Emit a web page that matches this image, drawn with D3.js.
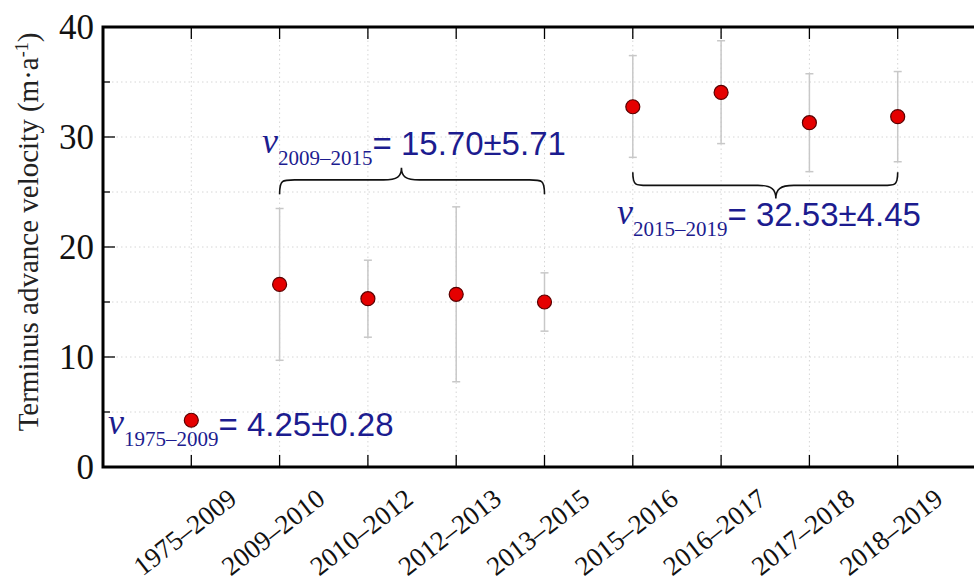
<!DOCTYPE html>
<html>
<head>
<meta charset="utf-8">
<script src="https://cdn.jsdelivr.net/npm/d3@7"></script>
<style>
  body { margin: 0; background: #fff; }
  svg { display: block; }
</style>
</head>
<body>
<svg id="chart" width="974" height="586"></svg>
<script>
// data
var periods = ["1975\u20132009", "2009\u20132010", "2010\u20132012", "2012\u20132013", "2013\u20132015",
               "2015\u20132016", "2016\u20132017", "2017\u20132018", "2018\u20132019"];
var velocity = [4.25, 16.6, 15.3, 15.7, 15.0, 32.75, 34.05, 31.3, 31.85];
var errLow  = [0.28, 6.9, 3.5, 7.95, 2.65, 4.6, 4.65, 4.45, 4.1];
var errHigh = [0.28, 6.9, 3.5, 7.95, 2.65, 4.65, 4.7, 4.45, 4.1];
var yTicks = [0, 10, 20, 30, 40];
var yMinor = [0, 5, 10, 15, 20, 25, 30, 35, 40];

// period averages (braces + labels)
var groupSub = ["2009\u20132015", "2015\u20132019", "1975\u20132009"];
var groupVal = ["= 15.70\u00b15.71", "= 32.53\u00b14.45", "= 4.25\u00b10.28"];
var groupFrom = [1, 5];
var groupTo = [4, 8];

var svg = d3.select("#chart");
// plot box ("top" is taken on window, so pl/pt/pb/pr)
var pl = 103, pt = 27, pb = 467, pr = 986;

var x = d3.scaleLinear().domain([-1, periods.length]).range([pl, pr]);
var y = d3.scaleLinear().domain([0, 40]).range([pb, pt]);

var g = svg.append("g");

// dotted grid
g.selectAll(".hgrid").data(yMinor.filter(function(d){ return d > 0 && d < 40; }))
  .enter().append("line")
  .attr("x1", pl).attr("x2", pr)
  .attr("y1", function(d){ return y(d); }).attr("y2", function(d){ return y(d); })
  .attr("stroke", "#d6d6d6").attr("stroke-width", 1).attr("stroke-dasharray", "1.5,3");
g.selectAll(".vgrid").data(periods)
  .enter().append("line")
  .attr("x1", function(d, i){ return x(i); }).attr("x2", function(d, i){ return x(i); })
  .attr("y1", pt).attr("y2", pb)
  .attr("stroke", "#d6d6d6").attr("stroke-width", 1).attr("stroke-dasharray", "1.5,3");

// ticks (inward)
g.selectAll(".yt").data(yMinor).enter().append("line")
  .attr("x1", pl).attr("x2", function(d){ return pl + (d % 10 === 0 ? 12 : 7); })
  .attr("y1", function(d){ return y(d); }).attr("y2", function(d){ return y(d); })
  .attr("stroke", "#000").attr("stroke-width", 1.3);
g.selectAll(".xtb").data(periods).enter().append("line")
  .attr("x1", function(d, i){ return x(i); }).attr("x2", function(d, i){ return x(i); })
  .attr("y1", pb).attr("y2", pb - 12)
  .attr("stroke", "#000").attr("stroke-width", 1.3);
g.selectAll(".xtt").data(periods).enter().append("line")
  .attr("x1", function(d, i){ return x(i); }).attr("x2", function(d, i){ return x(i); })
  .attr("y1", pt).attr("y2", pt + 12)
  .attr("stroke", "#000").attr("stroke-width", 1.3);
g.selectAll(".ytr").data(yMinor).enter().append("line")
  .attr("x1", pr).attr("x2", function(d){ return pr - (d % 10 === 0 ? 12 : 7); })
  .attr("y1", function(d){ return y(d); }).attr("y2", function(d){ return y(d); })
  .attr("stroke", "#000").attr("stroke-width", 1.3);

// frame
g.append("rect").attr("x", pl).attr("y", pt)
  .attr("width", pr - pl).attr("height", pb - pt)
  .attr("fill", "none").attr("stroke", "#000").attr("stroke-width", 3);

// y tick labels
g.selectAll(".yl").data(yTicks).enter().append("text")
  .attr("x", pl - 9).attr("y", function(d){ return y(d) + 12; })
  .attr("text-anchor", "end")
  .style("font-family", "'Liberation Serif', 'Times New Roman', serif")
  .style("font-size", "35px").attr("fill", "#111")
  .text(function(d){ return d; });

// x tick labels (rotated)
g.selectAll(".xl").data(periods).enter().append("text")
  .attr("transform", function(d, i){ return "translate(" + (x(i) + 47) + "," + (pb + 35) + ") rotate(-38)"; })
  .attr("text-anchor", "end")
  .style("font-family", "'Liberation Serif', 'Times New Roman', serif")
  .style("font-size", "27px").attr("fill", "#111")
  .text(function(d){ return d; });

// y axis title
var yt = g.append("text")
  .attr("transform", "translate(38,232) rotate(-90)")
  .attr("text-anchor", "middle")
  .style("font-family", "'Liberation Serif', 'Times New Roman', serif")
  .style("font-size", "29px").attr("fill", "#222");
yt.append("tspan").text("Terminus advance velocity (m\u00b7a");
yt.append("tspan").attr("dy", -10).style("font-size", "18px").text("-1");
yt.append("tspan").attr("dy", 10).text(")");

// error bars
var eb = g.selectAll(".eb").data(velocity).enter().append("g");
eb.append("line")
  .attr("x1", function(d, i){ return x(i); }).attr("x2", function(d, i){ return x(i); })
  .attr("y1", function(d, i){ return y(d - errLow[i]); })
  .attr("y2", function(d, i){ return y(d + errHigh[i]); })
  .attr("stroke", "#c8c8c8").attr("stroke-width", 1.5);
eb.append("line")
  .attr("x1", function(d, i){ return x(i) - 4; }).attr("x2", function(d, i){ return x(i) + 4; })
  .attr("y1", function(d, i){ return y(d + errHigh[i]); })
  .attr("y2", function(d, i){ return y(d + errHigh[i]); })
  .attr("stroke", "#c8c8c8").attr("stroke-width", 1.5);
eb.append("line")
  .attr("x1", function(d, i){ return x(i) - 4; }).attr("x2", function(d, i){ return x(i) + 4; })
  .attr("y1", function(d, i){ return y(d - errLow[i]); })
  .attr("y2", function(d, i){ return y(d - errLow[i]); })
  .attr("stroke", "#c8c8c8").attr("stroke-width", 1.5);

// points
g.selectAll(".pt").data(velocity).enter().append("circle")
  .attr("cx", function(d, i){ return x(i); })
  .attr("cy", function(d){ return y(d); })
  .attr("r", 7)
  .attr("fill", "#e50000").attr("stroke", "#5a0000").attr("stroke-width", 1.2);

// curly braces
function brace(x1, x2, tipX, yEnd, yMid, yTip) {
  var r = 18, s = yMid < yEnd ? -1 : 1;
  return "M" + x1 + "," + yEnd +
    " C" + x1 + "," + (yMid + s * 1) + " " + (x1 + 3) + "," + yMid + " " + (x1 + r) + "," + yMid +
    " L" + (tipX - r) + "," + yMid +
    " C" + (tipX - 4) + "," + yMid + " " + tipX + "," + (yMid + (yTip - yMid) * 0.3) + " " + tipX + "," + yTip +
    " C" + tipX + "," + (yMid + (yTip - yMid) * 0.3) + " " + (tipX + 4) + "," + yMid + " " + (tipX + r) + "," + yMid +
    " L" + (x2 - r) + "," + yMid +
    " C" + (x2 - 3) + "," + yMid + " " + x2 + "," + (yMid + s * 1) + " " + x2 + "," + yEnd;
}
var x1a = x(groupFrom[0]), x2a = x(groupTo[0]);
g.append("path")
  .attr("d", brace(x1a, x2a, x1a + (x2a - x1a) * 0.46, y(24.8), y(26.1), y(27.2)))
  .attr("fill", "none").attr("stroke", "#111").attr("stroke-width", 1.6);
var x1b = x(groupFrom[1]), x2b = x(groupTo[1]);
g.append("path")
  .attr("d", brace(x1b, x2b, x1b + (x2b - x1b) * 0.54, y(26.8), y(25.6), y(24.4)))
  .attr("fill", "none").attr("stroke", "#111").attr("stroke-width", 1.6);

// annotation labels
var labelPos = [[262, 153], [617, 224], [108, 434]];
var blue = "#1c1c8f";
labelPos.forEach(function(p, k) {
  var t = g.append("text").attr("x", p[0]).attr("y", p[1]).attr("fill", blue);
  t.append("tspan").text("v")
    .style("font-family", "'Liberation Serif', 'Times New Roman', serif")
    .style("font-style", "italic").style("font-size", "36px");
  t.append("tspan").attr("dy", 12).text(groupSub[k])
    .style("font-family", "'Liberation Serif', 'Times New Roman', serif")
    .style("font-size", "21px");
  t.append("tspan").attr("dy", -10).text(groupVal[k])
    .style("font-family", "'Liberation Sans Narrow', 'Arial Narrow', 'Liberation Sans', sans-serif")
    .style("font-stretch", "condensed")
    .style("font-size", "33px");
});
</script>
</body>
</html>
